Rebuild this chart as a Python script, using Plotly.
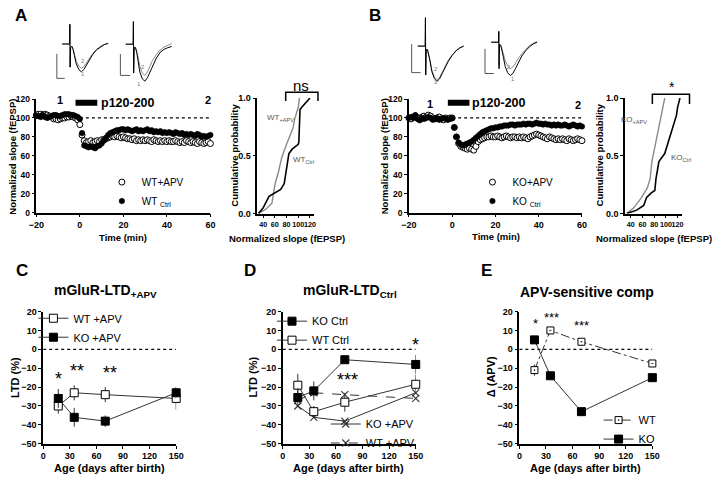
import plotly.graph_objects as go

W, H = 720, 486
FONT = "Liberation Sans, Arial, sans-serif"

# ---------------- data ----------------
time_min = list(range(-20, 61))
BASELINE = 100
STIM_PERIOD = [-2, 8]      # p120-200 application (min)
STIM_LEVEL = 116

wt_ctrl_slope = [102, 102, 101, 103, 101, 100, 101, 102, 103, 103, 102, 102, 103, 104, 104, 104, 103, 103, 102, 101,
                 99,
                 84, 71, 70, 69, 70, 69, 68, 70, 71, 73,
                 76, 79, 82, 84, 85, 86, 87, 87, 88, 88,
                 87, 88, 87, 86, 87, 88, 86, 87, 86, 87,
                 88, 86, 87, 85, 86, 85, 86, 84, 85, 84,
                 85, 84, 83, 85, 84, 83, 84, 82, 83, 82,
                 83, 82, 81, 83, 82, 80, 81, 80, 81, 82]
wt_apv_slope = [103, 104, 104, 103, 104, 103, 102, 101, 99, 99, 98, 99, 100, 100, 101, 101, 102, 101, 100, 98,
                93,
                82, 76, 74, 75, 76, 74, 75, 76, 75, 77,
                77, 78, 79, 80, 81, 80, 81, 80, 79, 80,
                79, 78, 78, 77, 78, 76, 77, 76, 77, 76,
                77, 76, 75, 77, 76, 75, 76, 75, 76, 75,
                76, 75, 75, 76, 75, 74, 75, 74, 76, 75,
                74, 75, 74, 73, 75, 74, 73, 74, 75, 73]
ko_ctrl_slope = [100, 101, 100, 103, 99, 98, 100, 99, 100, 101, 100, 98, 99, 100, 98, 99, 100, 99, 98, 99,
                 100,
                 90, 80, 74, 72, 71, 72, 73, 74, 75, 77,
                 79, 81, 83, 85, 86, 87, 88, 89, 89, 90,
                 90, 91, 91, 92, 92, 92, 93, 93, 92, 93,
                 93, 93, 94, 93, 94, 94, 93, 94, 95, 94,
                 94, 93, 94, 93, 93, 92, 93, 92, 93, 92,
                 92, 93, 92, 91, 92, 93, 92, 91, 92, 91]
ko_apv_slope = [100, 99, 101, 102, 100, 98, 101, 102, 101, 103, 102, 100, 99, 100, 101, 99, 98, 100, 99, 100,
                100,
                90, 80, 73, 70, 69, 68, 67, 68, 67, 66,
                70, 75, 77, 78, 79, 80, 80, 81, 80, 80,
                81, 80, 79, 80, 81, 80, 79, 80, 80, 79,
                80, 79, 80, 79, 78, 80, 81, 82, 83, 82,
                81, 80, 79, 78, 80, 79, 78, 77, 78, 77,
                78, 77, 76, 78, 77, 76, 77, 78, 77, 76]
slope_sem = 3

# cumulative distributions (normalized slope, probability)
cum_wt_ctrl_x = [32, 40, 50, 60, 70, 76, 80, 84, 90, 100, 101, 103, 106, 120]
cum_wt_ctrl_p = [0.0, 0.05, 0.15, 0.18, 0.21, 0.26, 0.40, 0.52, 0.56, 0.60, 0.62, 0.90, 0.92, 1.0]
cum_wt_apv_x = [32, 45, 55, 60, 66, 72, 80, 86, 91, 94, 100, 102]
cum_wt_apv_p = [0.0, 0.04, 0.09, 0.25, 0.36, 0.49, 0.60, 0.67, 0.74, 0.82, 0.92, 1.0]
cum_ko_ctrl_x = [33, 50, 62, 67, 75, 81, 83, 88, 98, 103, 107, 112, 118, 120, 124]
cum_ko_ctrl_p = [0.0, 0.03, 0.07, 0.14, 0.18, 0.20, 0.30, 0.45, 0.52, 0.60, 0.66, 0.75, 0.85, 0.92, 1.0]
cum_ko_apv_x = [33, 45, 57, 68, 73, 76, 80, 84, 90, 94, 98]
cum_ko_apv_p = [0.0, 0.05, 0.13, 0.22, 0.30, 0.45, 0.55, 0.65, 0.80, 0.90, 1.0]

# example fEPSP traces (ms, mV): 1 = before, 2 = 60 min after
wave_t = [-1, 1.9, 2.0, 2.1, 2.3, 2.8, 3.3, 3.8, 4.5, 5.5, 6.5, 7.5, 8.5, 9.5, 11, 12.5, 14, 15.5, 17]
wt_ctrl_tr1 = [0, 0, 1.7, -2.0, -0.3, -0.2, -0.5, -1.0, -1.7, -2.2, -2.4, -2.2, -1.8, -1.4, -0.9, -0.5, -0.25, -0.05, 0.05]
wt_ctrl_tr2 = [0, 0, 1.7, -2.0, -0.3, -0.2, -0.45, -0.9, -1.5, -1.9, -2.1, -1.95, -1.6, -1.25, -0.8, -0.45, -0.2, -0.05, 0.05]
wt_apv_tr1 = [0, 0, 1.95, -2.5, -0.3, -0.3, -0.7, -1.4, -2.4, -3.0, -3.2, -2.9, -2.4, -1.8, -1.2, -0.7, -0.45, -0.3, -0.2]
wt_apv_tr2 = [0, 0, 1.95, -2.2, -0.3, -0.25, -0.6, -1.1, -1.9, -2.5, -2.7, -2.4, -1.9, -1.4, -0.9, -0.5, -0.25, -0.1, 0.05]
ko_ctrl_tr1 = [0, 0, 2.46, -2.5, -0.3, -0.3, -0.7, -1.3, -2.2, -2.8, -3.05, -2.85, -2.4, -1.9, -1.3, -0.8, -0.4, -0.15, 0.0]
ko_ctrl_tr2 = [0, 0, 2.46, -2.5, -0.3, -0.3, -0.65, -1.2, -2.05, -2.65, -2.9, -2.7, -2.3, -1.8, -1.2, -0.75, -0.38, -0.15, 0.0]
ko_apv_tr1 = [0, 0, 0.93, -2.3, -0.2, -0.3, -0.7, -1.3, -2.1, -2.65, -2.88, -2.7, -2.3, -1.8, -1.2, -0.75, -0.4, -0.15, 0.0]
ko_apv_tr2 = [0, 0, 0.93, -2.0, -0.2, -0.25, -0.55, -1.0, -1.6, -2.05, -2.29, -2.15, -1.85, -1.45, -1.0, -0.6, -0.3, -0.1, 0.05]
scalebar_t = [[-3.1, -3.1, 0.0], [-3.1, -3.1, 0.75], [-3.4, -3.4, 0.1], [-3.4, -3.4, 0.1]]
scalebar_v = [[-0.85, -2.97, -2.97], [-0.85, -2.7, -2.7], [0.17, -2.29, -2.29], [-0.59, -2.71, -2.71]]

# LTD vs age
age_days = [17, 35, 70, 150]
c_wt_apv = [-30, -23, -24, -26]
c_wt_apv_err = [4, 4, 4, 6]
c_ko_apv = [-26, -36, -38, -23]
c_ko_apv_err = [5, 5, 3, 3]

d_ko_ctrl = [-25.5, -22, -5.5, -8]
d_ko_ctrl_err = [5, 5, 1, 5]
d_wt_ctrl = [-19, -33, -28, -18.5]
d_wt_ctrl_err = [6, 3, 5, 5]
d_ko_apv = [-30, -36, -38, -23]
d_wt_apv = [-27, -23, -24, -26]

e_wt = [-11, 10, 4, -7.5]
e_wt_err = [3, 1.5, 1.5, 2]
e_ko = [5, -14, -33, -15]
e_ko_err = [2, 1, 1, 2.5]

stars_c = [("*", 17, -15.5), ("**", 38, -11.5), ("**", 75, -12.5)]
stars_d = [("***", 73, -16.5), ("*", 150, 2.5)]
stars_e = [("*", 18, 13.5), ("***", 36, 16.8), ("***", 70, 12.5)]

# ---------------- helpers ----------------
def dx(a, b):
    return [a / W, b / W]

def dy(top, bottom):
    return [1 - bottom / H, 1 - top / H]

def PX(x):
    return x / W

def PY(y):
    return 1 - y / H

def axis_style(size=9, **kw):
    d = dict(showline=True, linecolor="black", linewidth=1.5, ticks="outside", ticklen=3,
             tickwidth=1.3, tickcolor="black", showgrid=False, zeroline=False, tickangle=0,
             tickfont=dict(family=FONT, size=size, color="black", weight="bold"), fixedrange=True)
    d.update(kw)
    return d

def ann(text, x, y, size=10, bold=True, color="black", angle=0, xanchor="center", yanchor="middle"):
    return dict(text=text, x=PX(x), y=PY(y), xref="paper", yref="paper", showarrow=False,
                font=dict(family=FONT, size=size, color=color, weight="bold" if bold else "normal"),
                textangle=angle, xanchor=xanchor, yanchor=yanchor)

fig = go.Figure()

# ---------------- time courses (A, B) ----------------
def timecourse(y_open, y_filled, name_open, name_filled, xa, ya, leg):
    fig.add_trace(go.Scatter(x=time_min, y=y_open, mode="markers", name=name_open,
                             marker=dict(symbol="circle", size=6, color="white", line=dict(color="black", width=1)),
                             error_y=dict(type="constant", value=slope_sem, width=0, thickness=0.8, color="#555"),
                             xaxis=xa, yaxis=ya, legend=leg, legendrank=1, cliponaxis=False))
    fig.add_trace(go.Scatter(x=time_min, y=y_filled, mode="markers", name=name_filled,
                             marker=dict(symbol="circle", size=5.5, color="black", line=dict(color="black", width=0.5)),
                             error_y=dict(type="constant", value=slope_sem, width=0, thickness=0.8, color="#555"),
                             xaxis=xa, yaxis=ya, legend=leg, legendrank=2, cliponaxis=False))

timecourse(wt_apv_slope, wt_ctrl_slope, "WT+APV", "WT <sub>Ctrl</sub>", "x", "y", "legend")
timecourse(ko_apv_slope, ko_ctrl_slope, "KO+APV", "KO <sub>Ctrl</sub>", "x3", "y3", "legend2")

# ---------------- cumulative plots ----------------
def cum(xs, ps, color, width, xa, ya):
    fig.add_trace(go.Scatter(x=xs, y=ps, mode="lines", line=dict(color=color, width=width),
                             xaxis=xa, yaxis=ya, showlegend=False, cliponaxis=False))

cum(cum_wt_apv_x, cum_wt_apv_p, "#8a8a8a", 1.4, "x2", "y2")
cum(cum_wt_ctrl_x, cum_wt_ctrl_p, "black", 1.6, "x2", "y2")
cum(cum_ko_apv_x, cum_ko_apv_p, "#8a8a8a", 1.4, "x4", "y4")
cum(cum_ko_ctrl_x, cum_ko_ctrl_p, "black", 1.6, "x4", "y4")

# ---------------- C / D / E ----------------
def ltd(x, y, err, name, xa, ya, leg, symbol, fill, dash="solid", size=8, rank=1):
    marker = dict(symbol=symbol, size=size, color=fill, line=dict(color="black", width=1))
    if symbol.startswith("x"):
        marker = dict(symbol=symbol, size=7, line=dict(color="#333", width=1.1))
    tr = go.Scatter(x=x, y=y, mode="lines+markers", name=name, marker=marker,
                    line=dict(color="#333", width=1, dash=dash),
                    xaxis=xa, yaxis=ya, legend=leg, legendrank=rank, cliponaxis=False)
    if err is not None:
        tr.error_y = dict(type="data", array=err, width=0, thickness=1, color="#333")
    fig.add_trace(tr)

ltd(age_days, c_wt_apv, c_wt_apv_err, "WT +APV", "x5", "y5", "legend3", "square", "white", rank=1)
ltd(age_days, c_ko_apv, c_ko_apv_err, "KO +APV", "x5", "y5", "legend3", "square", "black", rank=2)

ltd(age_days, d_ko_apv, None, "KO +APV", "x6", "y6", "legend5", "x-thin", None, rank=1)
ltd(age_days, d_wt_apv, None, "WT +APV", "x6", "y6", "legend5", "x-thin", None, dash="dash", rank=2)
ltd(age_days, d_wt_ctrl, d_wt_ctrl_err, "WT Ctrl", "x6", "y6", "legend4", "square", "white", rank=2)
ltd(age_days, d_ko_ctrl, d_ko_ctrl_err, "KO Ctrl", "x6", "y6", "legend4", "square", "black", rank=1)

ltd(age_days, e_wt, e_wt_err, "WT", "x7", "y7", "legend6", "square-dot", "white", dash="dashdot", size=7, rank=1)
ltd(age_days, e_ko, e_ko_err, "KO", "x7", "y7", "legend6", "square", "black", rank=2)

# ---------------- example traces ----------------
insets = [
    ("x8", "y8", wt_ctrl_tr1, wt_ctrl_tr2),
    ("x9", "y9", wt_apv_tr1, wt_apv_tr2),
    ("x10", "y10", ko_ctrl_tr1, ko_ctrl_tr2),
    ("x11", "y11", ko_apv_tr1, ko_apv_tr2),
]
for i, (xa, ya, t1, t2) in enumerate(insets):
    fig.add_trace(go.Scatter(x=wave_t, y=t2, mode="lines", line=dict(color="#8a8a8a", width=1),
                             xaxis=xa, yaxis=ya, showlegend=False, cliponaxis=False))
    fig.add_trace(go.Scatter(x=wave_t, y=t1, mode="lines", line=dict(color="black", width=1),
                             xaxis=xa, yaxis=ya, showlegend=False, cliponaxis=False))
    fig.add_trace(go.Scatter(x=scalebar_t[i], y=scalebar_v[i], mode="lines", line=dict(color="#555", width=1),
                             xaxis=xa, yaxis=ya, showlegend=False, cliponaxis=False))

# ---------------- axes ----------------
lay = dict(width=W, height=H, autosize=False, margin=dict(l=0, r=0, t=0, b=0),
           paper_bgcolor="white", plot_bgcolor="white", hovermode=False)

for xa, ya, a, b in [("xaxis", "yaxis", 29, 207), ("xaxis3", "yaxis3", 410, 587)]:
    xi = xa.replace("axis", "")
    yi = ya.replace("axis", "")
    lay[xa] = axis_style(domain=dx(a, b), range=[-20, 60], tickvals=[-20, 0, 20, 40, 60], anchor=yi)
    lay[ya] = axis_style(size=8.5, domain=dy(96, 212), range=[0, 120],
                         tickvals=[0, 20, 40, 60, 80, 100, 120], anchor=xi)

for xa, ya, a, b in [("xaxis2", "yaxis2", 255, 313), ("xaxis4", "yaxis4", 631, 689)]:
    xi = xa.replace("axis", "")
    yi = ya.replace("axis", "")
    lay[xa] = axis_style(size=7.2, domain=dx(a, b), range=[30, 127], tickvals=[40, 60, 80, 100, 120],
                         anchor=yi)
    lay[ya] = axis_style(size=9, domain=dy(95, 213), range=[0, 1], tickvals=[0, 0.5, 1],
                         ticktext=["0.0", "0.5", "1.0"], anchor=xi)

for n, a, b in [(5, 36, 172), (6, 281, 417), (7, 523, 659)]:
    lay[f"xaxis{n}"] = axis_style(domain=dx(a, b), range=[0, 150], tickvals=[0, 30, 60, 90, 120, 150],
                                  anchor=f"y{n}")
    lay[f"yaxis{n}"] = axis_style(domain=dy(313, 448), range=[-50, 20],
                                  tickvals=[-50, -40, -30, -20, -10, 0, 10, 20], anchor=f"x{n}")

inset_boxes = [((45, 105), (15, 80), [-5, 18], [-3.4, 2.1]),
               ((110, 170), (12, 85), [-5, 18], [-3.81, 2.37]),
               ((405, 470), (10, 82), [-6.4, 18.5], [-3.39, 2.71]),
               ((480, 550), (10, 82), [-6.4, 20.4], [-3.73, 2.37])]
for k, (bx, by, rx, ry) in enumerate(inset_boxes):
    n = 8 + k
    lay[f"xaxis{n}"] = dict(domain=dx(*bx), range=rx, visible=False, anchor=f"y{n}", fixedrange=True)
    lay[f"yaxis{n}"] = dict(domain=dy(*by), range=ry, visible=False, anchor=f"x{n}", fixedrange=True)

def legend(x, y, size):
    return dict(x=PX(x), y=PY(y), xanchor="left", yanchor="top", bgcolor="rgba(0,0,0,0)",
                font=dict(family=FONT, size=size, color="black"), tracegroupgap=0,
                itemclick=False, itemdoubleclick=False)

lay["legend"] = legend(96, 166, 10)
lay["legend2"] = legend(475, 166, 10)
lay["legend3"] = legend(26, 305, 11)
lay["legend4"] = legend(270, 308, 11)
lay["legend5"] = legend(325, 413, 11)
lay["legend6"] = legend(604, 409, 11)

# ---------------- shapes ----------------
dot = dict(color="black", width=1.3, dash="dot")
shapes = [
    dict(type="line", xref="x", yref="y", x0=0, x1=time_min[-1], y0=BASELINE, y1=BASELINE, line=dot, layer="below"),
    dict(type="line", xref="x3", yref="y3", x0=0, x1=time_min[-1], y0=BASELINE, y1=BASELINE, line=dot, layer="below"),
    dict(type="line", xref="x", yref="y", x0=STIM_PERIOD[0], x1=STIM_PERIOD[1], y0=STIM_LEVEL, y1=STIM_LEVEL,
         line=dict(color="black", width=6)),
    dict(type="line", xref="x3", yref="y3", x0=STIM_PERIOD[0], x1=STIM_PERIOD[1], y0=STIM_LEVEL, y1=STIM_LEVEL,
         line=dict(color="black", width=6)),
]
for n in (5, 6, 7):
    shapes.append(dict(type="line", xref=f"x{n}", yref=f"y{n}", x0=0, x1=150, y0=0, y1=0, line=dot, layer="below"))

def bracket(x0, x1, ytop, ybot):
    p = f"M {PX(x0)},{PY(ybot)} L {PX(x0)},{PY(ytop)} L {PX(x1)},{PY(ytop)} L {PX(x1)},{PY(ybot)}"
    return dict(type="path", xref="paper", yref="paper", path=p, line=dict(color="black", width=1.5))

shapes.append(bracket(284, 317, 89, 98))
shapes.append(bracket(659, 697, 91, 101))
lay["shapes"] = shapes

# ---------------- annotations ----------------
A = []
A += [ann("A", 13, 11, 17), ann("B", 375, 11, 17), ann("C", 14, 271, 17), ann("D", 248, 271, 17), ann("E", 489, 271, 17)]
A += [ann("Time (min)", 118, 237, 9.5), ann("Time (min)", 499, 236, 9.5),
      ann("Normalized slope (fEPSP)", 5, 155, 9.5, angle=-90),
      ann("Normalized slope (fEPSP)", 385, 154, 9.5, angle=-90),
      ann("1", 53, 97, 11), ann("2", 205, 97, 11), ann("1", 432, 101, 11), ann("2", 583, 102, 11),
      ann("p120-200", 93, 100, 12.5, xanchor="left"), ann("p120-200", 473, 100, 12.5, xanchor="left")]
A += [ann("Cumulative probability", 232, 153, 9.5, angle=-90),
      ann("Cumulative probability", 605, 153, 9.5, angle=-90),
      ann("Normalized slope (fEPSP)", 285, 238, 9.5), ann("Normalized slope (fEPSP)", 661, 238, 9.5),
      ann("WT<sub>+APV</sub>", 279, 115, 8, bold=False, color="#555"),
      ann("WT<sub>Ctrl</sub>", 302, 158, 8, bold=False, color="#555"),
      ann("KO<sub>+APV</sub>", 640, 117, 8, bold=False, color="#555"),
      ann("KO<sub>Ctrl</sub>", 688, 156, 8, bold=False, color="#555"),
      ann("ns", 300, 82, 15, bold=False), ann("*", 679, 84, 14, bold=False)]
for t, x, y in [("2", 77, 57), ("1", 77, 70), ("2", 138, 63), ("1", 134, 81),
                ("2", 438, 65), ("1", 438, 79), ("2", 512, 63), ("1", 516, 76)]:
    A.append(ann(t, x, y, 6, bold=False, color="#777"))
A += [ann("mGluR-LTD<sub>+APV</sub>", 100, 292, 14), ann("mGluR-LTD<sub>Ctrl</sub>", 350, 292, 14),
      ann("APV-sensitive comp", 592, 293, 14),
      ann("Age (days after birth)", 104, 473, 11), ann("Age (days after birth)", 348, 473, 11),
      ann("Age (days after birth)", 591, 473, 11),
      ann("LTD (%)", 7, 380, 11, angle=-90), ann("LTD (%)", 251, 380, 11, angle=-90),
      ann("Δ (APV)", 494, 380, 11, angle=-90)]
for stars, n, size in [(stars_c, 5, 18), (stars_d, 6, 18), (stars_e, 7, 13)]:
    for s, x, y in stars:
        A.append(dict(text=s, x=x, y=y, xref=f"x{n}", yref=f"y{n}", showarrow=False,
                      font=dict(family=FONT, size=size, color="black")))
lay["annotations"] = A

fig.update_layout(**lay)
fig.write_html("out.html", config={"displayModeBar": False},
               post_script="document.body.style.margin='0';")
